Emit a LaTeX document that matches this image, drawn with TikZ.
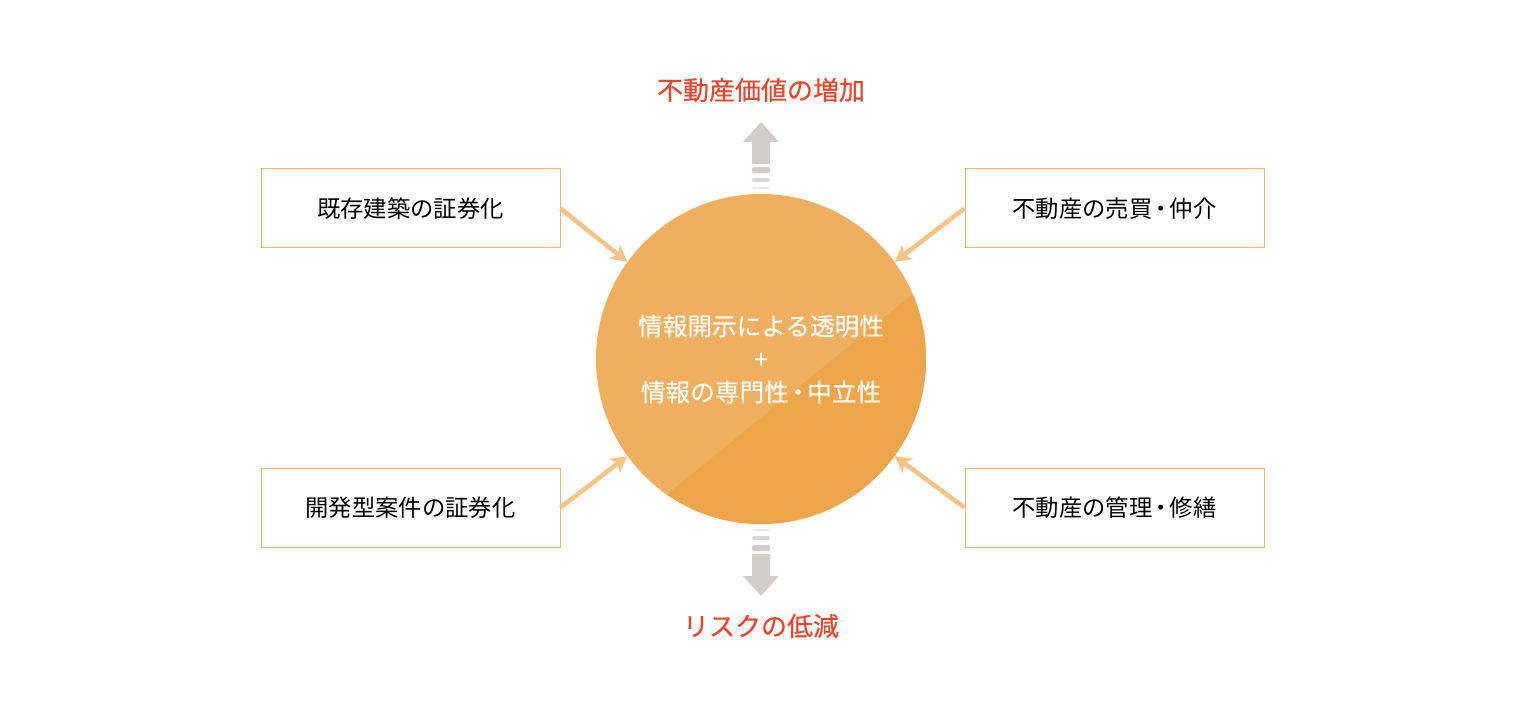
\documentclass[tikz,border=0pt]{standalone}
\usepackage{fontspec}
\setmainfont{Noto Sans CJK JP}
\newfontfamily\medfont[FakeBold=0.5]{Noto Sans CJK JP}
\usetikzlibrary{arrows.meta,calc}
\definecolor{boxline}{HTML}{F2B466}
\definecolor{arrowc}{HTML}{F6C385}
\definecolor{hublight}{HTML}{F0AE5F}
\definecolor{hubdark}{HTML}{EEA449}
\definecolor{goalred}{HTML}{E8462E}
\definecolor{greyarrow}{HTML}{D1CDC9}
\newcommand{\dotsep}{\kern-0.13em・\kern-0.13em}
\tikzset{BOX/.style={rectangle,draw=boxline,line width=0.75pt,minimum width=224.25pt,minimum height=59.25pt,inner sep=0pt,font=\fontsize{17.5}{21}\selectfont}}
\tikzset{HUB/.style={circle,fill=hublight,minimum size=247.5pt,inner sep=0pt}}
\tikzset{ARROW/.style={draw=arrowc,line width=3.4pt,-{Stealth[length=12pt,width=13pt,inset=3pt]}}}
\tikzset{GOAL/.style={text=goalred,font=\medfont\fontsize{19.5}{23}\selectfont}}

\begin{document}
\begin{tikzpicture}[x=0.75pt,y=-0.75pt]
\useasboundingbox (0,0) rectangle (1525,713);

\node[HUB] (n_hub) at (761,359) {};
\begin{scope}
\clip (n_hub.center) circle[radius=123.75pt];
\fill[hubdark] (546,593) -- (1042,189) -- (1042,593) -- cycle;
\end{scope}
\node[text=white,align=center,font=\medfont\fontsize{18.5}{24.75}\selectfont] (n_hub_text) at (n_hub.center) {情報開示による透明性\\+\\情報の専門性\dotsep 中立性};

\node[BOX] (n_existing) at (410.5,208.5) {既存建築の証券化};
\node[BOX] (n_trade) at (1114.5,208.5) {不動産の売買\dotsep 仲介};
\node[BOX] (n_develop) at (410.5,507.5) {開発型案件の証券化};
\node[BOX] (n_manage) at (1114.5,507.5) {不動産の管理\dotsep 修繕};

\draw[ARROW] (n_existing.east) -- (n_hub.144);
\draw[ARROW] (n_trade.west) -- (n_hub.36);
\draw[ARROW] (n_develop.east) -- (n_hub.216);
\draw[ARROW] (n_manage.west) -- (n_hub.324);

% grey arrows up and down
\foreach \s in {1,-1}{
\begin{scope}[shift={(n_hub.center)},yscale=\s]
\fill[greyarrow] (0,-237) -- (18,-217) -- (9,-217) -- (9,-195) -- (-9,-195) -- (-9,-217) -- (-18,-217) -- cycle;
\fill[greyarrow,rounded corners=1.5pt] (-9,-192) rectangle (9,-186);
\fill[greyarrow,opacity=0.8,rounded corners=1.5pt] (-9,-181) rectangle (9,-177);
\fill[greyarrow,opacity=0.45,rounded corners=1pt] (-9,-172) rectangle (9,-170);
\end{scope}
}

\node[GOAL] (n_value) at (761,90) {不動産価値の増加};
\node[GOAL] (n_risk) at (761,626) {リスクの低減};

\end{tikzpicture}
\end{document}
